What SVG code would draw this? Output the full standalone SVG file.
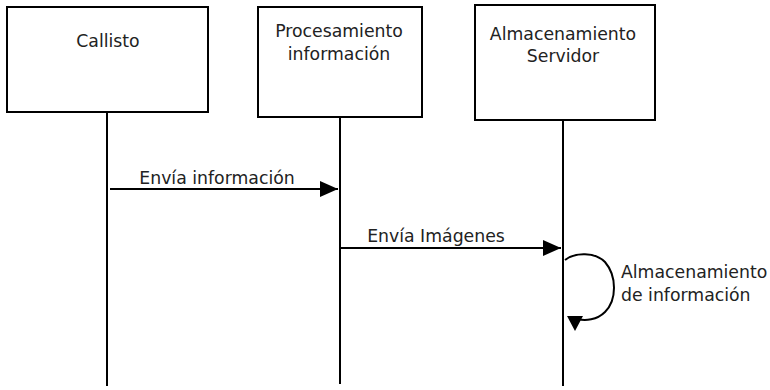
<svg xmlns="http://www.w3.org/2000/svg" width="770" height="390" viewBox="0 0 770 390">
<style>
.box{fill:#fff;stroke:#000;stroke-width:2}
.ln{fill:none;stroke:#000;stroke-width:2}
text{font-family:"DejaVu Sans",sans-serif;font-size:17.3px;fill:#222;text-anchor:middle}
.l{text-anchor:start}
</style>
<defs>
<marker id="ah" viewBox="0 0 18 16" refX="18" refY="8" markerWidth="18" markerHeight="16" markerUnits="userSpaceOnUse" orient="auto">
<path d="M0,0 L18,8 L0,16 Z" fill="#000"/>
</marker>
</defs>
<g id="callisto">
<rect class="box" x="7" y="7" width="201" height="105"/>
<text x="108" y="47">Callisto</text>
</g>
<g id="procesamiento">
<rect class="box" x="258" y="7" width="164" height="110"/>
<text x="339" y="37">Procesamiento</text>
<text x="339" y="60">información</text>
</g>
<g id="almacenamiento">
<rect class="box" x="475" y="5" width="180" height="115"/>
<text x="563" y="40">Almacenamiento</text>
<text x="563" y="62">Servidor</text>
</g>
<g id="connectors">
<line class="ln" x1="107" y1="112" x2="107" y2="386"/>
<line class="ln" x1="340" y1="117" x2="340" y2="384"/>
<line class="ln" x1="563" y1="120" x2="563" y2="386"/>
<line class="ln" x1="110" y1="189" x2="338" y2="189" marker-end="url(#ah)"/>
<text x="217" y="184">Envía información</text>
<line class="ln" x1="340" y1="248" x2="561" y2="248" marker-end="url(#ah)"/>
<text x="436" y="242">Envía Imágenes</text>
<path class="ln" d="M565,260 C575,252 595,252 605,262 C617,276 617,300 605,312 C597,320 585,321 578,319"/>
<path d="M567,316 L583,316 L575,331 Z" fill="#000"/>
<text class="l" x="621" y="278">Almacenamiento</text>
<text class="l" x="621" y="301">de información</text>
</g>
</svg>
